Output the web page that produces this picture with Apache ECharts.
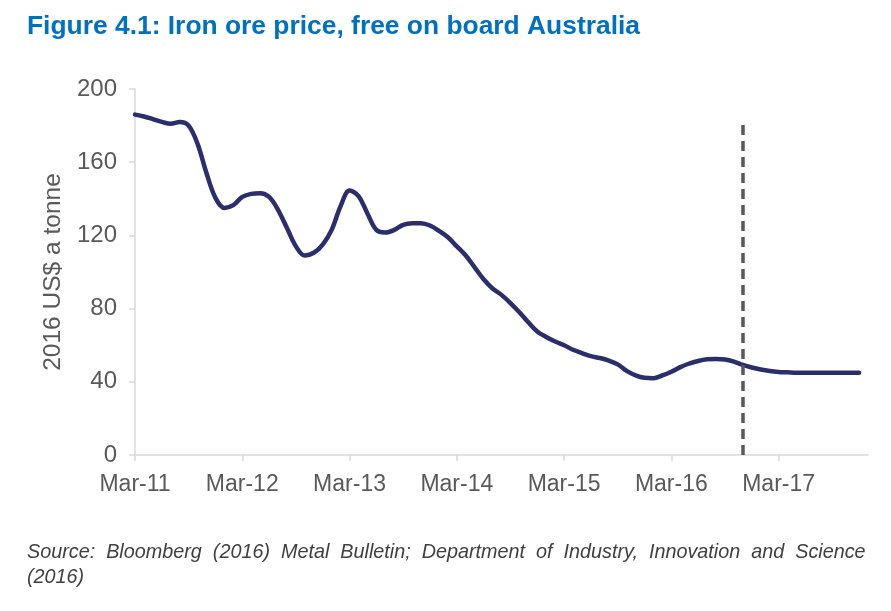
<!DOCTYPE html>
<html>
  <head>
    <meta charset="UTF-8">
    <script src="https://cdn.jsdelivr.net/npm/echarts@6/dist/echarts.min.js"></script>
    <title>Iron ore price</title>
    <style>
      html, body { margin: 0; padding: 0; background: #fff; }
    </style>
  </head>
  <body>
    <div id="main" style="width:891px;height:611px;"></div>
  </body>

  <script>
// monthly categories, Mar-11 .. Jan-18
var months = [
  'Mar-11','Apr-11','May-11','Jun-11','Jul-11','Aug-11','Sep-11','Oct-11','Nov-11','Dec-11',
  'Jan-12','Feb-12','Mar-12','Apr-12','May-12','Jun-12','Jul-12','Aug-12','Sep-12','Oct-12','Nov-12','Dec-12',
  'Jan-13','Feb-13','Mar-13','Apr-13','May-13','Jun-13','Jul-13','Aug-13','Sep-13','Oct-13','Nov-13','Dec-13',
  'Jan-14','Feb-14','Mar-14','Apr-14','May-14','Jun-14','Jul-14','Aug-14','Sep-14','Oct-14','Nov-14','Dec-14',
  'Jan-15','Feb-15','Mar-15','Apr-15','May-15','Jun-15','Jul-15','Aug-15','Sep-15','Oct-15','Nov-15','Dec-15',
  'Jan-16','Feb-16','Mar-16','Apr-16','May-16','Jun-16','Jul-16','Aug-16','Sep-16','Oct-16','Nov-16','Dec-16',
  'Jan-17','Feb-17','Mar-17','Apr-17','May-17','Jun-17','Jul-17','Aug-17','Sep-17','Oct-17','Nov-17','Dec-17',
  'Jan-18'
];

// 2016 US$ a tonne, Mar-11 .. Dec-17
var price = [
  186, 185, 183.5, 182, 181, 182, 180, 170, 154, 140.5,
  135, 136.5, 141, 142.7, 143, 141, 134, 124, 114, 109, 110.5, 115,
  123, 136, 144.5, 141.5, 132, 123, 121.6, 123, 125.8, 126.7, 126.7, 125.4,
  122.5, 119, 114, 109, 102.5, 96, 91, 87.5, 83, 78, 72.5, 67.5,
  64.5, 62, 60, 57.5, 55.7, 54, 53, 51.6, 49.5, 46, 43.5, 42.2,
  42, 43.5, 45.5, 48, 50, 51.4, 52.3, 52.5, 52.2, 51, 49.2, 47.8,
  46.7, 45.9, 45.4, 45.2, 45, 45, 45, 45, 45, 45, 45, 45
];

var yTicks = [0, 40, 80, 120, 160, 200];
var forecastStart = 'Nov-16';
var forecastTop = 183.5;

var font = 'Liberation Sans, Arial, sans-serif';
var chart = echarts.init(document.getElementById('main'));

option = {
    animation: false,
    title: {
        text: 'Figure 4.1: Iron ore price, free on board Australia',
        left: 27,
        top: 14,
        padding: 0,
        textStyle: {
            fontFamily: font,
            fontSize: 26.4,
            fontWeight: 'bold',
            color: '#0070C0'
        }
    },
    grid: {
        left: 135,
        right: 23,
        top: 89,
        bottom: 156
    },
    xAxis: {
        type: 'category',
        data: months,
        boundaryGap: false,
        axisLine: { lineStyle: { color: '#d9d9d9', width: 1.5 } },
        axisTick: {
            interval: 11,
            length: 6,
            lineStyle: { color: '#d9d9d9', width: 1.5 }
        },
        axisLabel: {
            interval: 11,
            margin: 18,
            fontFamily: font,
            fontSize: 23,
            color: '#595959'
        },
        splitLine: { show: false }
    },
    yAxis: {
        type: 'value',
        min: yTicks[0],
        max: yTicks[yTicks.length - 1],
        interval: 40,
        name: '2016 US$ a tonne',
        nameLocation: 'middle',
        nameGap: 67,
        nameTextStyle: {
            fontFamily: font,
            fontSize: 24.5,
            color: '#595959'
        },
        axisLine: { show: true, lineStyle: { color: '#d9d9d9', width: 1.5 } },
        axisTick: { show: true, length: 6, lineStyle: { color: '#d9d9d9', width: 1.5 } },
        axisLabel: {
            margin: 18,
            fontFamily: font,
            fontSize: 24,
            color: '#595959'
        },
        splitLine: { show: false }
    },
    series: [
        {
            name: 'Iron ore price',
            type: 'line',
            data: price,
            smooth: 0.35,
            symbol: 'none',
            lineStyle: { color: '#2B2E6B', width: 4.5, cap: 'round' },
            markLine: {
                silent: true,
                symbol: 'none',
                label: { show: false },
                lineStyle: { color: '#595959', type: [10, 6], width: 3.5 },
                data: [
                    [
                        { coord: [forecastStart, 0] },
                        { coord: [forecastStart, forecastTop] }
                    ]
                ]
            }
        }
    ],
    graphic: [
        {
            type: 'text',
            left: 27,
            top: 540,
            style: {
                text: 'Source:  Bloomberg  (2016)  Metal  Bulletin;  Department  of  Industry,  Innovation  and  Science\n(2016)',
                fontFamily: font,
                fontSize: 19.8,
                fontStyle: 'italic',
                lineHeight: 25,
                fill: '#404040'
            }
        }
    ]
};

chart.setOption(option);
  </script>
</html>
